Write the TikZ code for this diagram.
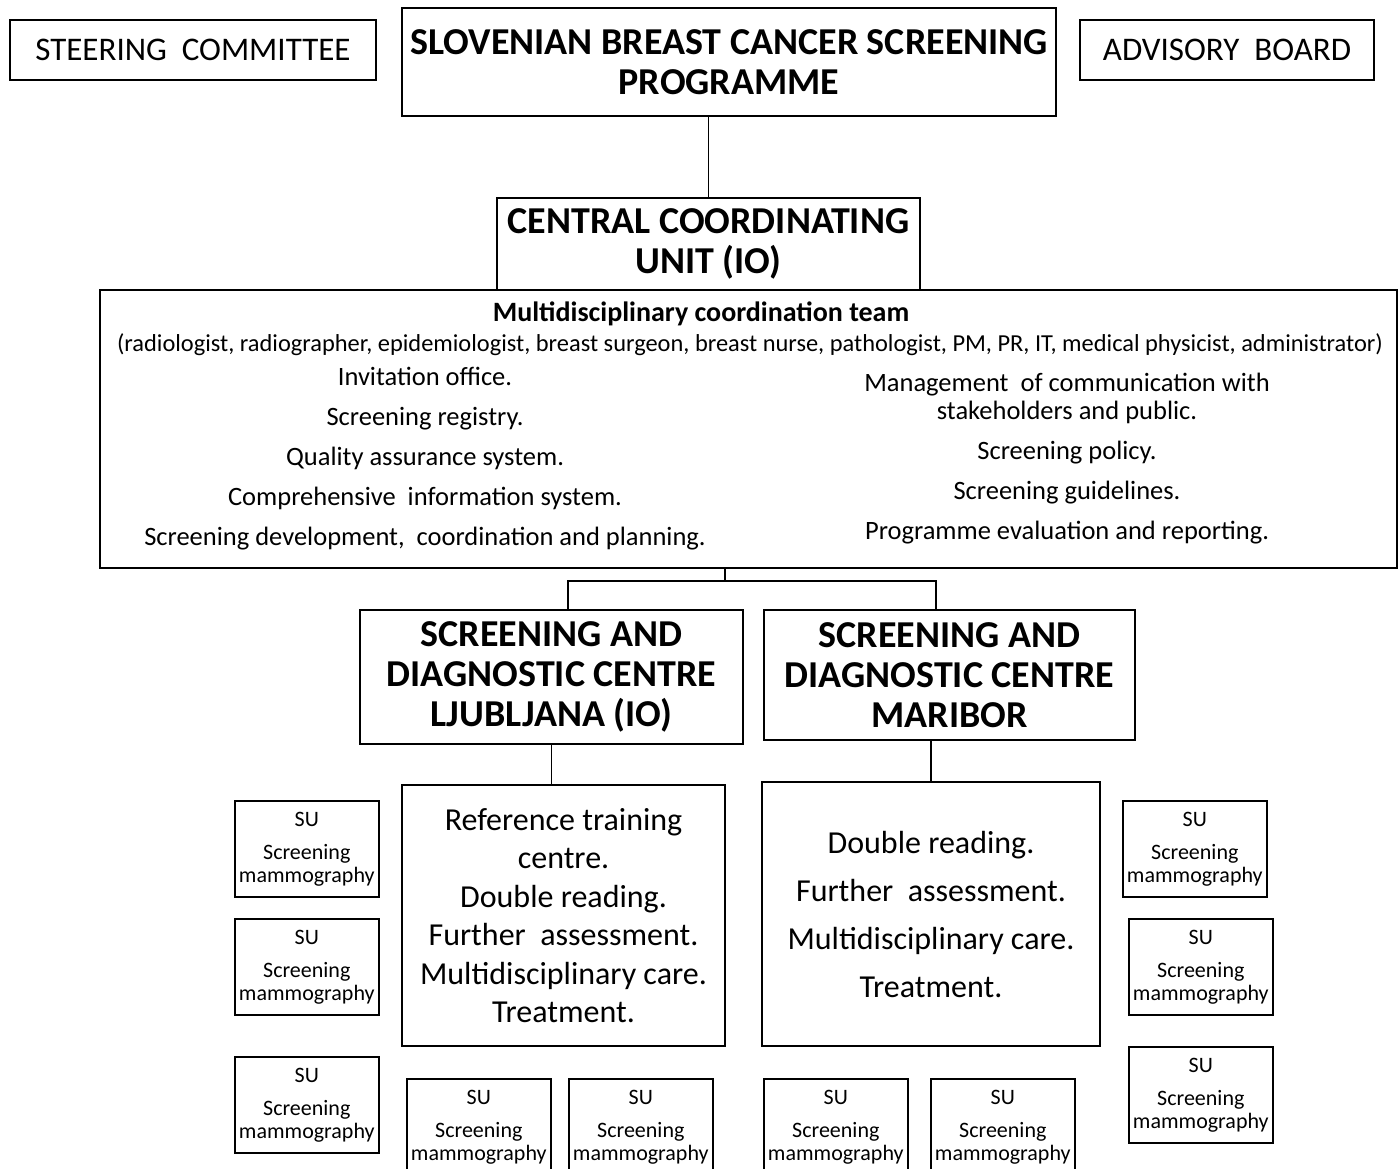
\documentclass[tikz,border=0pt]{standalone}
\usepackage{fontspec}
\setmainfont{Carlito}
\tikzset{
	box/.style={draw, line width=1.6pt, inner sep=0pt, align=center},
	head/.style={box, font=\bfseries\fontsize{38}{40}\selectfont},
	side/.style={box, font=\fontsize{33}{38}\selectfont},
	centretext/.style={box, font=\fontsize{32}{38.4}\selectfont},
	sunit/.style={box, anchor=north west, minimum width=144pt, minimum height=96pt, font=\fontsize{22}{23}\selectfont},
	listtext/.style={align=center, font=\fontsize{26.5}{40}\selectfont},
	link/.style={line width=1.3pt},
}
\begin{document}
\begin{tikzpicture}[x=1pt, y=-1pt]
	\clip (0,0) rectangle (1399,1168);
	% top row
	\node[side, minimum width=366pt, minimum height=60pt] (steer) at (193,50) {STEERING\ \ COMMITTEE};
	\node[head, minimum width=654pt, minimum height=108pt] (prog) at (729,62) {SLOVENIAN BREAST CANCER SCREENING\\PROGRAMME};
	\node[side, minimum width=294pt, minimum height=60pt] (advisory) at (1227,50) {ADVISORY\ \ BOARD};
	% coordinating unit
	\node[head, minimum width=423pt, minimum height=92pt] (central) at (708.5,244) {CENTRAL COORDINATING\\UNIT (IO)};
	\node[box, minimum width=1297pt, minimum height=278pt] (team) at (748.5,429) {};
	\node[font=\bfseries\fontsize{28}{30}\selectfont] (teamtitle) at (701,314) {Multidisciplinary coordination team};
	\node[font=\fontsize{24.4}{26}\selectfont] (members) at (750,345) {(radiologist, radiographer, epidemiologist, breast surgeon, breast nurse, pathologist, PM, PR, IT, medical physicist, administrator)};
	\node[listtext] (tasksleft) at (425,459) {Invitation office.\\Screening registry.\\Quality assurance system.\\Comprehensive\ \ information system.\\Screening development,\ \ coordination and planning.};
	\node[listtext, font=\fontsize{26.5}{28}\selectfont] (tasksright) at (1067,459) {Management\ \ of communication with\\stakeholders and public.\\[12pt]Screening policy.\\[12pt]Screening guidelines.\\[12pt]Programme evaluation and reporting.};
	% centres
	\node[head, minimum width=383pt, minimum height=134pt] (ljub) at (551.5,677) {SCREENING AND\\DIAGNOSTIC CENTRE\\LJUBLJANA (IO)};
	\node[head, minimum width=371pt, minimum height=130pt] (mar) at (949.5,675) {SCREENING AND\\DIAGNOSTIC CENTRE\\MARIBOR};
	\node[centretext, minimum width=323pt, minimum height=261pt] (ljubtasks) at (563.5,915.5) {Reference training\\centre.\\Double reading.\\Further\ \ assessment.\\Multidisciplinary care.\\Treatment.};
	\node[centretext, font=\fontsize{32}{48}\selectfont, minimum width=338pt, minimum height=264pt] (martasks) at (931,914) {Double reading.\\Further\ \ assessment.\\Multidisciplinary care.\\Treatment.};
	% screening units
	\foreach \x/\y [count=\i] in {234/800, 234/918, 234/1056, 406/1078, 568/1078, 763/1078, 930/1078, 1122/800, 1128/918, 1128/1046}
		\node[sunit] (su\i) at (\x,\y) {SU\\[10pt]Screening\\mammography};
	% connectors
	\coordinate (split) at (725,581);
	\coordinate (ljubin) at (568,610);
	\coordinate (marin) at (936,610);
	\draw[link] (central.north |- prog.south) -- (central.north);
	\draw[link] (split |- team.south) -- (split);
	\draw[link] (ljubin) |- (split) -| (marin);
	\draw[link] (ljub.south) -- (ljub.south |- ljubtasks.north);
	\draw[link] (martasks.north |- mar.south) -- (martasks.north);
\end{tikzpicture}
\end{document}
